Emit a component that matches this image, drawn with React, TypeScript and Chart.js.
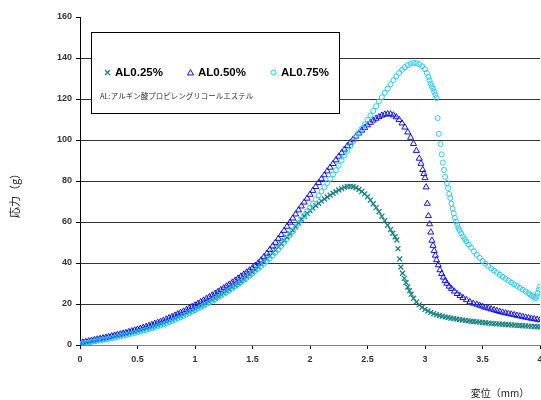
import React, { useEffect, useRef } from "react";
import { Chart, registerables } from "chart.js";

Chart.register(...registerables);

const SERIES_LABELS = ["AL0.25%", "AL0.50%", "AL0.75%"];
const NOTE = "AL:アルギン酸プロピレングリコールエステル";
const X_TITLE = "変位（mm）";
const Y_TITLE = "応力（g）";
const X_MIN = 0, X_MAX = 4, X_STEP = 0.5;
const Y_MIN = 0, Y_MAX = 160, Y_STEP = 20;

// AL0.25%
const al025X = [0, 0.025, 0.05, 0.075, 0.1, 0.125, 0.15, 0.175, 0.2, 0.225, 0.25, 0.275, 0.3, 0.325, 0.35, 0.375, 0.4, 0.425, 0.45, 0.475,
  0.5, 0.525, 0.55, 0.575, 0.6, 0.625, 0.65, 0.675, 0.7, 0.725, 0.75, 0.775, 0.8, 0.825, 0.85, 0.875, 0.9, 0.925, 0.95, 0.975,
  1.0, 1.025, 1.05, 1.075, 1.1, 1.125, 1.15, 1.175, 1.2, 1.225, 1.25, 1.275, 1.3, 1.325, 1.35, 1.375, 1.4, 1.425, 1.45, 1.475,
  1.5, 1.525, 1.55, 1.575, 1.6, 1.625, 1.65, 1.675, 1.7, 1.725, 1.75, 1.775, 1.8, 1.825, 1.85, 1.875, 1.9, 1.925, 1.95, 1.975,
  2.0, 2.025, 2.05, 2.075, 2.1, 2.125, 2.15, 2.175, 2.2, 2.225, 2.25, 2.275, 2.3, 2.325, 2.35, 2.375, 2.4, 2.425, 2.45, 2.475,
  2.5, 2.525, 2.55, 2.575, 2.6, 2.625, 2.65, 2.675, 2.7, 2.72, 2.74, 2.755, 2.765, 2.78, 2.79,
  2.805, 2.82, 2.835, 2.85, 2.865, 2.88, 2.9, 2.925, 2.95, 2.975,
  3.0, 3.025, 3.05, 3.075, 3.1, 3.125, 3.15, 3.175, 3.2, 3.225, 3.25, 3.275, 3.3, 3.325, 3.35, 3.375, 3.4, 3.425, 3.45, 3.475,
  3.5, 3.525, 3.55, 3.575, 3.6, 3.625, 3.65, 3.675, 3.7, 3.725, 3.75, 3.775, 3.8, 3.825, 3.85, 3.875, 3.9, 3.925, 3.95, 3.975, 4.0];
const al025Y = [0.8, 1.05, 1.3, 1.6, 1.9, 2.15, 2.4, 2.7, 3.0, 3.3, 3.6, 3.95, 4.3, 4.6, 4.9, 5.25, 5.6, 5.95, 6.3, 6.65,
  7.0, 7.4, 7.8, 8.2, 8.6, 9.05, 9.5, 9.95, 10.4, 10.9, 11.4, 11.95, 12.5, 13.05, 13.6, 14.2, 14.8, 15.45, 16.1, 16.8,
  17.5, 18.2, 18.9, 19.65, 20.4, 21.2, 22.0, 22.8, 23.6, 24.45, 25.3, 26.2, 27.1, 28.05, 29.0, 30.0, 31.0, 32.1, 33.2, 34.35,
  35.5, 36.75, 38.0, 39.3, 40.6, 42.0, 43.4, 44.85, 46.3, 47.85, 49.4, 51.0, 52.6, 54.3, 56.0, 57.8, 59.6, 61.3, 62.8, 64.2,
  65.6, 66.8, 68.0, 69.1, 70.2, 71.2, 72.2, 73.1, 74.0, 74.8, 75.6, 76.3, 76.9, 77.3, 77.4, 77.2, 76.7, 75.9, 74.9, 73.7,
  72.3, 70.7, 68.9, 67.0, 65.0, 62.8, 60.6, 58.4, 56.3, 54.5, 52.8, 51.2, 47, 42, 38,
  35, 32.5, 30.5, 28.3, 26.5, 24.8, 22.8, 21, 19.6, 18.4,
  17.4, 16.6, 15.9, 15.3, 14.8, 14.4, 14.0, 13.7, 13.4, 13.1, 12.9, 12.6, 12.4, 12.2, 12.0, 11.8, 11.6, 11.45, 11.3, 11.15,
  11.0, 10.85, 10.7, 10.55, 10.4, 10.3, 10.2, 10.1, 10.0, 9.9, 9.8, 9.7, 9.6, 9.5, 9.4, 9.3, 9.2, 9.1, 9.0, 8.9, 8.8];

// AL0.50%
const al050X = [0, 0.025, 0.05, 0.075, 0.1, 0.125, 0.15, 0.175, 0.2, 0.225, 0.25, 0.275, 0.3, 0.325, 0.35, 0.375, 0.4, 0.425, 0.45, 0.475,
  0.5, 0.525, 0.55, 0.575, 0.6, 0.625, 0.65, 0.675, 0.7, 0.725, 0.75, 0.775, 0.8, 0.825, 0.85, 0.875, 0.9, 0.925, 0.95, 0.975,
  1.0, 1.025, 1.05, 1.075, 1.1, 1.125, 1.15, 1.175, 1.2, 1.225, 1.25, 1.275, 1.3, 1.325, 1.35, 1.375, 1.4, 1.425, 1.45, 1.475,
  1.5, 1.525, 1.55, 1.575, 1.6, 1.625, 1.65, 1.675, 1.7, 1.725, 1.75, 1.775, 1.8, 1.825, 1.85, 1.875, 1.9, 1.925, 1.95, 1.975,
  2.0, 2.025, 2.05, 2.075, 2.1, 2.125, 2.15, 2.175, 2.2, 2.225, 2.25, 2.275, 2.3, 2.325, 2.35, 2.375, 2.4, 2.425, 2.45, 2.475,
  2.5, 2.525, 2.55, 2.575, 2.6, 2.625, 2.65, 2.675, 2.7, 2.725, 2.75, 2.775, 2.8, 2.825, 2.85, 2.875, 2.9, 2.925, 2.95, 2.965,
  2.98, 2.99, 3.0, 3.01, 3.02, 3.03, 3.04, 3.05, 3.06, 3.07, 3.08, 3.09, 3.1, 3.115, 3.13, 3.145, 3.16, 3.175, 3.19, 3.21,
  3.23, 3.255, 3.28, 3.305, 3.33, 3.36, 3.39, 3.42, 3.45, 3.475, 3.5, 3.525, 3.55, 3.575, 3.6, 3.625, 3.65, 3.675, 3.7, 3.725,
  3.75, 3.775, 3.8, 3.825, 3.85, 3.875, 3.9, 3.925, 3.95, 3.975, 4.0];
const al050Y = [1.0, 1.3, 1.6, 1.9, 2.2, 2.5, 2.8, 3.1, 3.4, 3.7, 4.0, 4.35, 4.7, 5.0, 5.3, 5.65, 6.0, 6.4, 6.8, 7.2,
  7.6, 8.05, 8.5, 8.95, 9.4, 9.9, 10.4, 10.9, 11.4, 12.0, 12.6, 13.2, 13.8, 14.45, 15.1, 15.75, 16.4, 17.15, 17.9, 18.65,
  19.4, 20.2, 21.0, 21.8, 22.6, 23.45, 24.3, 25.15, 26.0, 26.9, 27.8, 28.7, 29.6, 30.55, 31.5, 32.5, 33.5, 34.5, 35.5, 36.5,
  37.6, 38.8, 40.0, 41.4, 43.0, 44.7, 46.5, 48.2, 50.0, 51.9, 53.8, 55.8, 57.8, 59.8, 61.8, 63.8, 65.8, 67.7, 69.6, 71.5,
  73.4, 75.3, 77.2, 79.1, 81.0, 82.9, 84.8, 86.6, 88.4, 90.2, 92.0, 93.7, 95.4, 97.1, 98.7, 100.3, 101.8, 103.3, 104.7, 106.0,
  107.3, 108.5, 109.6, 110.5, 111.3, 112.0, 112.5, 112.7, 112.6, 112.1, 111.2, 109.9, 108.2, 106.2, 103.8, 101.2, 98.2, 94.8, 91.0, 88.5,
  85.5, 83.5, 81.5, 77, 69, 63, 59, 55, 51, 48.5, 46, 43.7, 41.5, 39, 36.6, 34.7, 33, 31.4, 30, 28.6,
  27.5, 26.2, 25, 24, 23, 22, 21, 20.3, 19.8, 19.3, 18.8, 18.3, 17.9, 17.5, 17.1, 16.7, 16.3, 15.9, 15.6, 15.3,
  15.0, 14.7, 14.4, 14.1, 13.8, 13.5, 13.2, 12.95, 12.7, 12.45, 12.2];

// AL0.75%
const al075X = [0, 0.025, 0.05, 0.075, 0.1, 0.125, 0.15, 0.175, 0.2, 0.225, 0.25, 0.275, 0.3, 0.325, 0.35, 0.375, 0.4, 0.425, 0.45, 0.475,
  0.5, 0.525, 0.55, 0.575, 0.6, 0.625, 0.65, 0.675, 0.7, 0.725, 0.75, 0.775, 0.8, 0.825, 0.85, 0.875, 0.9, 0.925, 0.95, 0.975,
  1.0, 1.025, 1.05, 1.075, 1.1, 1.125, 1.15, 1.175, 1.2, 1.225, 1.25, 1.275, 1.3, 1.325, 1.35, 1.375, 1.4, 1.425, 1.45, 1.475,
  1.5, 1.525, 1.55, 1.575, 1.6, 1.625, 1.65, 1.675, 1.7, 1.725, 1.75, 1.775, 1.8, 1.825, 1.85, 1.875, 1.9, 1.925, 1.95, 1.975,
  2.0, 2.025, 2.05, 2.075, 2.1, 2.125, 2.15, 2.175, 2.2, 2.225, 2.25, 2.275, 2.3, 2.325, 2.35, 2.375, 2.4, 2.425, 2.45, 2.475,
  2.5, 2.525, 2.55, 2.575, 2.6, 2.625, 2.65, 2.675, 2.7, 2.725, 2.75, 2.775, 2.8, 2.825, 2.85, 2.875, 2.9, 2.925, 2.95, 2.975,
  3.0, 3.015, 3.03, 3.04, 3.05, 3.06, 3.07, 3.08, 3.09, 3.1, 3.11, 3.12, 3.135, 3.145, 3.155, 3.165, 3.175, 3.19, 3.2, 3.21,
  3.22, 3.23, 3.24, 3.25, 3.26, 3.27, 3.28, 3.29, 3.3, 3.315, 3.33, 3.345, 3.36, 3.38, 3.4, 3.425, 3.45, 3.475, 3.5, 3.525,
  3.55, 3.575, 3.6, 3.625, 3.65, 3.675, 3.7, 3.725, 3.75, 3.775, 3.8, 3.825, 3.85, 3.875, 3.9, 3.915, 3.93, 3.945, 3.96, 3.97,
  3.98, 3.99, 3.998];
const al075Y = [0.5, 0.75, 1.0, 1.25, 1.5, 1.75, 2.0, 2.25, 2.5, 2.75, 3.0, 3.3, 3.6, 3.9, 4.2, 4.5, 4.8, 5.15, 5.5, 5.85,
  6.2, 6.6, 7.0, 7.4, 7.8, 8.2, 8.6, 9.05, 9.5, 10.05, 10.6, 11.15, 11.7, 12.3, 12.9, 13.55, 14.2, 14.9, 15.6, 16.3,
  17.0, 17.75, 18.5, 19.25, 20.0, 20.8, 21.6, 22.45, 23.3, 24.15, 25.0, 25.9, 26.8, 27.75, 28.7, 29.7, 30.7, 31.75, 32.8, 33.9,
  35.0, 36.15, 37.3, 38.5, 39.7, 40.9, 42.2, 43.7, 45.2, 46.7, 48.3, 50.0, 51.8, 53.6, 55.5, 57.4, 59.3, 61.2, 63.2, 65.1,
  67.0, 69.0, 71.0, 73.0, 75.0, 77.0, 79.0, 81.1, 83.2, 85.3, 87.5, 90.0, 92.5, 94.8, 97.0, 99.3, 101.5, 103.5, 105.5, 107.6,
  109.8, 112.0, 114.2, 116.5, 118.8, 120.9, 123.0, 125.1, 127.2, 129.2, 131.0, 132.7, 134.2, 135.5, 136.5, 137.2, 137.6, 137.5, 137.0, 136.0,
  134.5, 132.8, 130.7, 129.1, 127.5, 126.2, 125.0, 123.5, 122.0, 120.5, 110.7, 103, 98, 93, 89, 85.4, 82, 79, 76.6, 73.7,
  71.7, 69, 66.5, 64.2, 62, 60.2, 58.5, 57.2, 56, 54.5, 53, 51.7, 50.5, 49, 47.5, 45.7, 44, 42.5, 41, 39.7,
  38.5, 37.4, 36.3, 35.3, 34.3, 33.3, 32.3, 31.4, 30.5, 29.6, 28.8, 27.9, 27, 26.1, 25.3, 24.6, 24, 23.4, 22.8, 23.8,
  25.3, 27, 28.5];

const COLORS = ["#1a8282", "#1010ee", "#2ec8f2"];

const toPoints = (xs: number[], ys: number[]) => xs.map((x, i) => ({ x, y: ys[i] }));

const TICK_FONT = { family: "'Liberation Sans', Arial, sans-serif", size: 9, weight: "bold" as const };

const zeroPadding = (s: any) => {
  s.paddingLeft = 0; s.paddingRight = 0; s.paddingTop = 0; s.paddingBottom = 0;
  s.getPadding = () => ({ left: 0, right: 0, top: 0, bottom: 0 });
};

const overlayPlugin = {
  id: "overlay",
  afterDraw(chart: any) {
    const ctx: CanvasRenderingContext2D = chart.ctx;
    ctx.save();
    ctx.fillStyle = "#ffffff";
    ctx.fillRect(91, 32, 248, 81);
    ctx.strokeStyle = "#000000";
    ctx.lineWidth = 1;
    ctx.strokeRect(91.5, 32.5, 248, 81);

    const my = 72.5;
    const mx = [107.5, 190.5, 273.5];
    const tx = [115, 198, 281];
    ctx.lineWidth = 1.3;
    ctx.strokeStyle = COLORS[0];
    ctx.beginPath();
    ctx.moveTo(mx[0] - 2.5, my - 2.5); ctx.lineTo(mx[0] + 2.5, my + 2.5);
    ctx.moveTo(mx[0] + 2.5, my - 2.5); ctx.lineTo(mx[0] - 2.5, my + 2.5);
    ctx.stroke();
    ctx.lineWidth = 1;
    ctx.strokeStyle = COLORS[1];
    ctx.beginPath();
    ctx.moveTo(mx[1], my - 3); ctx.lineTo(mx[1] + 3, my + 2.5); ctx.lineTo(mx[1] - 3, my + 2.5); ctx.closePath();
    ctx.stroke();
    ctx.strokeStyle = COLORS[2];
    ctx.beginPath();
    ctx.arc(mx[2], my, 2.5, 0, Math.PI * 2);
    ctx.stroke();

    ctx.fillStyle = "#000000";
    ctx.font = "bold 11.5px 'Liberation Sans', Arial, sans-serif";
    ctx.textAlign = "left";
    ctx.textBaseline = "middle";
    SERIES_LABELS.forEach((l, i) => ctx.fillText(l, tx[i], my + 0.5));

    ctx.fillStyle = "#333333";
    ctx.font = "7.5px 'Noto Sans CJK JP', sans-serif";
    ctx.fillText(NOTE, 100, 96.5);

    ctx.fillStyle = "#222222";
    ctx.font = "10px 'Noto Sans CJK JP', sans-serif";
    ctx.textAlign = "center";
    ctx.fillText(X_TITLE, 500, 393);
    ctx.translate(15, 193);
    ctx.rotate(-Math.PI / 2);
    ctx.font = "11px 'Noto Sans CJK JP', sans-serif";
    ctx.fillText(Y_TITLE, 0, 0);
    ctx.restore();
  },
};

export default function App() {
  const ref = useRef<HTMLCanvasElement | null>(null);
  useEffect(() => {
    document.body.style.margin = "0";
    const canvas = ref.current;
    if (!canvas) return;
    const chart = new Chart(canvas, {
      type: "scatter",
      data: {
        datasets: [
          {
            label: SERIES_LABELS[0],
            data: toPoints(al025X, al025Y),
            pointStyle: "crossRot",
            pointRadius: 3.5,
            pointHoverRadius: 3.5,
            borderColor: COLORS[0],
            backgroundColor: COLORS[0],
            pointBorderWidth: 1.3,
            order: 2,
          },
          {
            label: SERIES_LABELS[1],
            data: toPoints(al050X, al050Y),
            pointStyle: "triangle",
            pointRadius: 3.5,
            pointHoverRadius: 3.5,
            borderColor: COLORS[1],
            backgroundColor: "rgba(255,255,255,0)",
            pointBorderWidth: 1,
            order: 1,
          },
          {
            label: SERIES_LABELS[2],
            data: toPoints(al075X, al075Y),
            pointStyle: "circle",
            pointRadius: 2.5,
            pointHoverRadius: 2.5,
            borderColor: COLORS[2],
            backgroundColor: "rgba(255,255,255,0)",
            pointBorderWidth: 1,
            order: 0,
          },
        ],
      },
      options: {
        responsive: false,
        animation: false,
        layout: { autoPadding: false, padding: { left: 0, right: 1, top: 17, bottom: 0 } },
        plugins: { legend: { display: false }, tooltip: { enabled: false } },
        scales: {
          x: {
            type: "linear",
            min: X_MIN,
            max: X_MAX,
            afterFit: (s: any) => { s.height = 55; zeroPadding(s); },
            ticks: {
              stepSize: X_STEP, font: TICK_FONT, color: "#333", padding: 5, maxRotation: 0,
              callback: (v: any) => String(v),
            },
            grid: { drawOnChartArea: false, tickLength: 4, color: "#000" },
            border: { color: "#808080", width: 1 },
          },
          y: {
            min: Y_MIN,
            max: Y_MAX,
            afterFit: (s: any) => { s.width = 80; zeroPadding(s); },
            ticks: { stepSize: Y_STEP, font: TICK_FONT, color: "#333", padding: 4, callback: (v: any) => String(v) },
            grid: {
              tickLength: 4,
              tickColor: "#000",
              color: (c: any) => (c.tick && (c.tick.value === Y_MIN || c.tick.value === Y_MAX) ? "rgba(0,0,0,0)" : "#333"),
            },
            border: { color: "#000", width: 1 },
          },
        },
      },
      plugins: [overlayPlugin],
    });
    return () => chart.destroy();
  }, []);
  return (
    <div style={{ width: 541, height: 400, background: "#fff" }}>
      <canvas ref={ref} width={541} height={400} />
    </div>
  );
}
